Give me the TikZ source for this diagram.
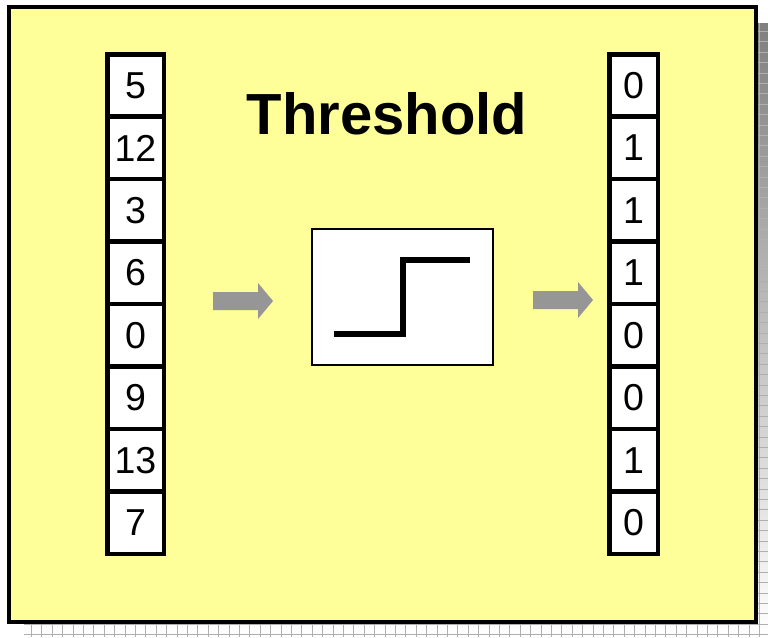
\documentclass[tikz,border=0pt]{standalone}
\usepackage{fontspec}
\setmainfont{Liberation Sans}
\usepackage{tikz}
\usetikzlibrary{positioning}
\definecolor{panel}{RGB}{255,255,153}
\definecolor{shade}{RGB}{200,200,200}
\definecolor{shadeline}{RGB}{175,175,175}
\definecolor{arrowgray}{RGB}{150,150,150}

\begin{document}
\begin{tikzpicture}[x=1pt, y=-1pt,
                    cell/.style={draw, line width=4.5pt, fill=white, inner sep=0pt,
                                 minimum height=62.4pt, font=\fontsize{37.5}{40}\selectfont},
                    incell/.style={cell, minimum width=56.5pt},
                    outcell/.style={cell, minimum width=48.5pt},
                    blockarrow/.style={fill=arrowgray}]
                    \useasboundingbox (0,0) rectangle (768,637);
                    % panel with its drop shadow
                    \fill[shade] (24,23) rectangle (768,637);
                    \draw[shadeline, line width=0.6pt, step=10.4pt] (24,23) grid (768,637);
                    \draw[line width=4pt, fill=panel] (9,7) rectangle (756,622);
                    \node[anchor=base, font=\bfseries\fontsize{58}{60}\selectfont] (title) at (387,134) {Threshold};
                    % input and output columns
                    \foreach \v [count=\i from 0] in {5,12,3,6,0,9,13,7}
                        \node[incell] (in\i) at (135.5, 85.5+62.44*\i) {\v};
                    \foreach \v [count=\i from 0] in {0,1,1,1,0,0,1,0}
                        \node[outcell] (out\i) at (633.5, 85.5+62.44*\i) {\v};
                    % step function box
                    \node[draw, line width=2pt, fill=white, minimum width=181pt, minimum height=136pt] (step) at (402.5,297) {};
                    \draw[line width=6pt] (334,334) -- (403,334) -- (403,260) -- (470,260);
                    % arrows
                    \coordinate (a1) at (213,301);
                    \coordinate (a2) at (533,300);
                    \foreach \a in {a1,a2}
                        \fill[blockarrow] (\a) ++(0,-9) -- ++(45,0) -- ++(0,-9) -- ++(15,18)
                            -- ++(-15,18) -- ++(0,-9) -- ++(-45,0) -- cycle;
                \end{tikzpicture}
\end{document}
